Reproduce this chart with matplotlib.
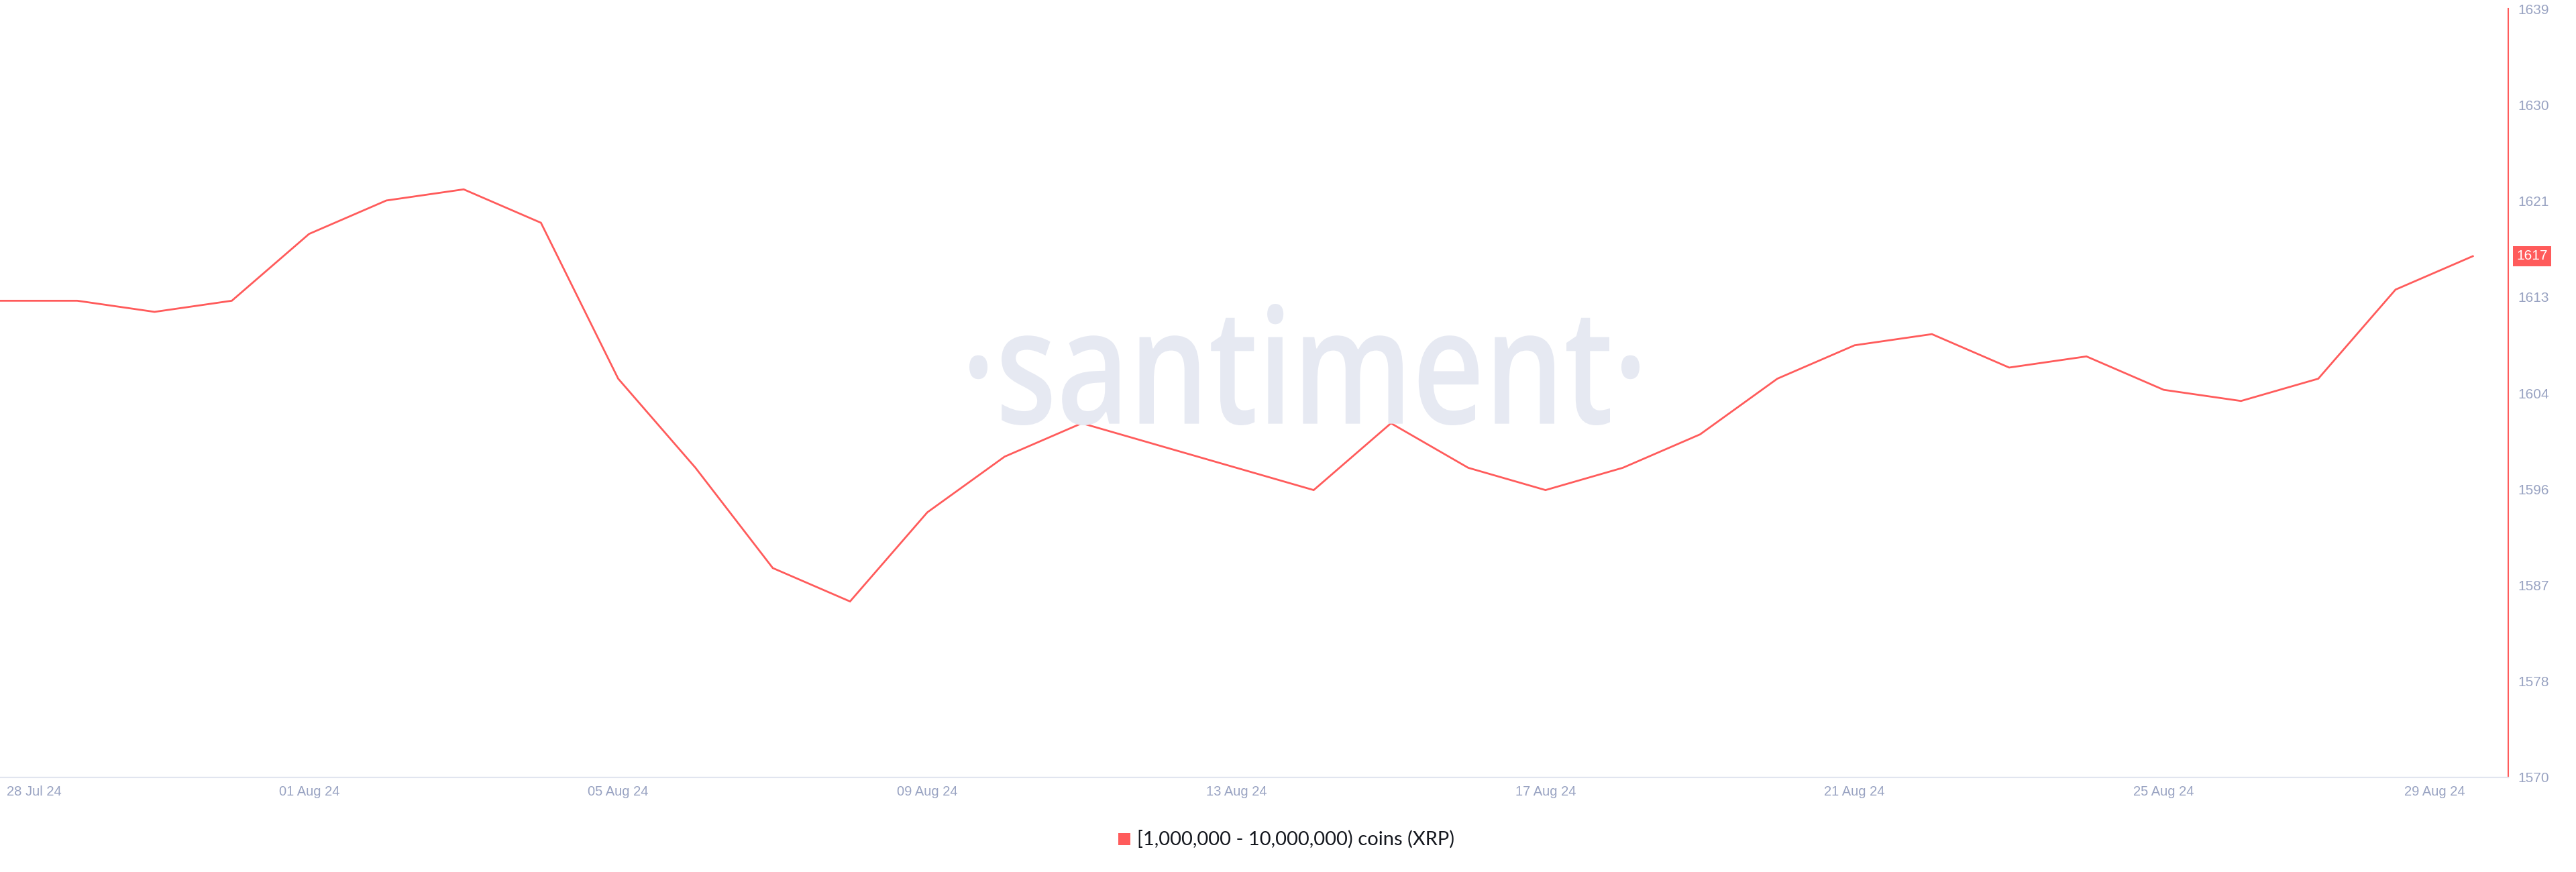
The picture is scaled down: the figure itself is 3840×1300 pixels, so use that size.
import numpy as np
import pandas as pd
import matplotlib
matplotlib.use('Agg')
import matplotlib.pyplot as plt
import matplotlib.dates as mdates
from matplotlib.patches import Rectangle, PathPatch
from matplotlib.textpath import TextPath
from matplotlib.font_manager import FontProperties
from matplotlib.transforms import Affine2D, IdentityTransform, ScaledTranslation

# Daily holder count, 28 Jul 24 .. 29 Aug 24
dates = pd.date_range('2024-07-28', '2024-08-29', freq='D')
holders = [1613, 1613, 1612, 1613, 1619, 1622, 1623, 1620, 1606, 1598,
           1589, 1586, 1594, 1599, 1602, 1600, 1598, 1596, 1602, 1598,
           1596, 1598, 1601, 1606, 1609, 1610, 1607, 1608, 1605, 1604,
           1606, 1614, 1617]

y_tick_labels = ['1570', '1578', '1587', '1596', '1604', '1613', '1621', '1630', '1639']
series_label = '[1,000,000 - 10,000,000) coins (XRP)'
last_label = '1617'

RED = '#ff5b5b'
TICK = '#99a3c2'
GRID = '#e1e5ef'
MARK = '#e6e9f2'

W, H = 3840, 1300
fig = plt.figure(figsize=(W / 100, H / 100), dpi=100)
fig.patch.set_facecolor('white')

# axes box in pixels: x 0..3739, y 13..1159 (from top)
ax = fig.add_axes([0, (H - 1159) / H, 3739 / W, (1159 - 13.3) / H])
ax.set_facecolor('none')

# watermark, stretched into its box
tp = TextPath((0, 0), '\u00b7santiment\u00b7', size=100,
              prop=FontProperties(family='Open Sans', weight='semibold'))
ext = tp.get_extents()
bx0, bx1 = 1445, 2444
by0, by1 = H - 634, H - 453
tr = (Affine2D().translate(-ext.x0, -ext.y0)
      .scale((bx1 - bx0) / ext.width, (by1 - by0) / ext.height)
      .translate(bx0, by0))
wm = PathPatch(tr.transform_path(tp), facecolor=MARK, edgecolor='none',
               transform=IdentityTransform(), zorder=0)
fig.patches.append(wm)

ax.plot(dates, holders, color=RED, linewidth=2.0, solid_joinstyle='miter', zorder=3)

ymin, ymax = 1570.2, 1639.2
ax.set_ylim(ymin, ymax)
ax.set_xlim(dates[0], dates[-1] + pd.Timedelta(hours=11))

ax.yaxis.tick_right()
ax.set_yticks(np.linspace(ymin, ymax, len(y_tick_labels)))
ax.set_yticklabels(y_tick_labels)
ax.tick_params(axis='y', length=0, pad=10, labelsize=15, labelcolor=TICK)

xt = dates[::4]
ax.set_xticks(xt)
ax.xaxis.set_major_formatter(mdates.DateFormatter('%d %b %y'))
ax.tick_params(axis='x', length=0, pad=9, labelsize=14.5, labelcolor=TICK)
for lab in ax.get_xticklabels() + ax.get_yticklabels():
    lab.set_fontfamily('Liberation Sans')
xl = ax.get_xticklabels()
xl[0].set_horizontalalignment('left')
xl[0].set_transform(xl[0].get_transform() + ScaledTranslation(0.1, 0, fig.dpi_scale_trans))
xl[-1].set_horizontalalignment('right')
xl[-1].set_transform(xl[-1].get_transform() + ScaledTranslation(-0.12, 0, fig.dpi_scale_trans))

for s in ['top', 'left']:
    ax.spines[s].set_visible(False)
ax.spines['right'].set_color(RED)
ax.spines['right'].set_linewidth(1.5)
ax.spines['bottom'].set_color(GRID)
ax.spines['bottom'].set_linewidth(1.5)
ax.grid(False)

# last value badge on the axis
ax.annotate(last_label, xy=(1, holders[-1]), xycoords=('axes fraction', 'data'),
            xytext=(12, 0), textcoords='offset pixels', ha='left', va='center',
            fontsize=15, color='white', family='Liberation Sans',
            bbox=dict(boxstyle='square,pad=0.25', facecolor=RED, edgecolor='none'))

# legend
fig.patches.append(Rectangle((1667, H - 1260), 18, 18, facecolor=RED, edgecolor='none',
                             transform=IdentityTransform()))
fig.text(1695 / W, (H - 1251) / H, series_label, ha='left', va='center',
         fontsize=21, color='#15181f', family='Lato')

fig.savefig('out.png', dpi=100, facecolor='white')
